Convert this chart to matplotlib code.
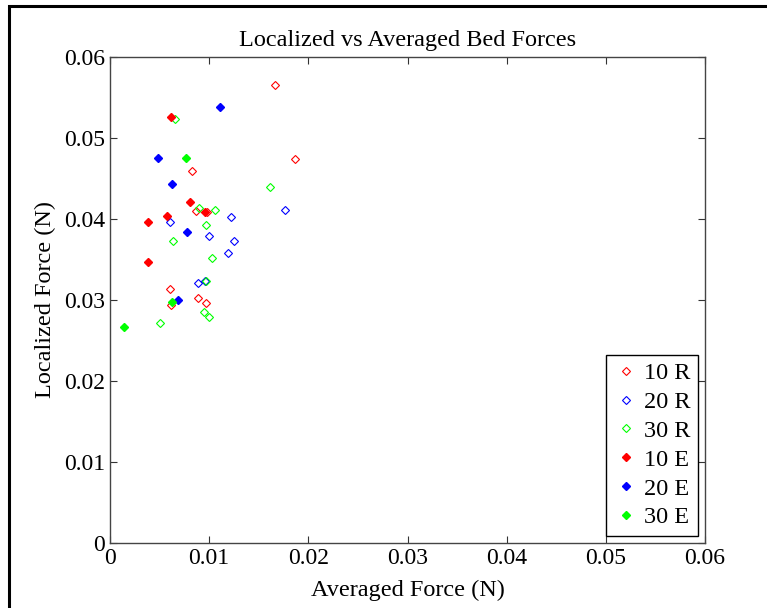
import matplotlib
matplotlib.use('Agg')
import matplotlib.pyplot as plt
from matplotlib.patches import Rectangle

plt.rcParams['font.family'] = ['Liberation Serif', 'DejaVu Serif']

# averaged force (x) and localized force (y), per series
r10_x = [0.0166, 0.01865, 0.0083, 0.0087, 0.0098, 0.0061, 0.0089, 0.0062, 0.0097]
r10_y = [0.0565, 0.0474, 0.0459, 0.0410, 0.0409, 0.0313, 0.0303, 0.0294, 0.0296]
r20_x = [0.0176, 0.0122, 0.0060, 0.0100, 0.0125, 0.0119, 0.0089, 0.0096]
r20_y = [0.0411, 0.0402, 0.0396, 0.0379, 0.0373, 0.0358, 0.0321, 0.0323]
r30_x = [0.0066, 0.0161, 0.0090, 0.0106, 0.0097, 0.0064, 0.0103, 0.0097, 0.0095, 0.0100, 0.0050]
r30_y = [0.0523, 0.0440, 0.0413, 0.0411, 0.0392, 0.0373, 0.0352, 0.0323, 0.0285, 0.0279, 0.0272]
e10_x = [0.0062, 0.0081, 0.0096, 0.0057, 0.0038, 0.0038]
e10_y = [0.0526, 0.0421, 0.0409, 0.0404, 0.0396, 0.0347]
e20_x = [0.0111, 0.0048, 0.0063, 0.0078, 0.0069]
e20_y = [0.0538, 0.0475, 0.0443, 0.0384, 0.0300]
e30_x = [0.0077, 0.0063, 0.0014]
e30_y = [0.0475, 0.0297, 0.0267]

fig = plt.figure(figsize=(7.67, 6.08), dpi=100)
ax = fig.add_axes([110/767, 1-543/608, 595/767, 486/608])

ax.plot(r10_x, r10_y, 'D', ls='none', ms=4, mfc='none', mec='#ff0000', mew=0.8, label='10 R')
ax.plot(r20_x, r20_y, 'D', ls='none', ms=4, mfc='none', mec='#0000ff', mew=0.8, label='20 R')
ax.plot(r30_x, r30_y, 'D', ls='none', ms=4, mfc='none', mec='#00ff00', mew=0.8, label='30 R')
ax.plot(e10_x, e10_y, 'D', ls='none', ms=4, color='#ff0000', label='10 E')
ax.plot(e20_x, e20_y, 'D', ls='none', ms=4, color='#0000ff', label='20 E')
ax.plot(e30_x, e30_y, 'D', ls='none', ms=4, color='#00ff00', label='30 E')

ax.set_xlim(0, 0.06)
ax.set_ylim(0, 0.06)
ax.set_xticks([0, 0.01, 0.02, 0.03, 0.04, 0.05, 0.06])
ax.set_yticks([0, 0.01, 0.02, 0.03, 0.04, 0.05, 0.06])
ax.set_xticklabels(['0', '0.01', '0.02', '0.03', '0.04', '0.05', '0.06'])
ax.set_yticklabels(['0', '0.01', '0.02', '0.03', '0.04', '0.05', '0.06'])
ax.tick_params(direction='in', length=5, width=0.8, top=True, right=True, labelsize=17, colors='#333333', labelcolor='black')
for s in ax.spines.values():
    s.set_color('#444444')
    s.set_linewidth(1)

ax.set_title('Localized vs Averaged Bed Forces', fontsize=17.5, pad=8)
ax.set_xlabel('Averaged Force (N)', fontsize=17.5, labelpad=8)
ax.set_ylabel('Localized Force (N)', fontsize=17.5, labelpad=6)

leg = ax.legend(loc='lower right', fontsize=17.5, fancybox=False, edgecolor='black',
                handlelength=1.0, handletextpad=0.25, borderpad=0.3, labelspacing=0.28,
                borderaxespad=0.3, framealpha=1)
leg.get_frame().set_linewidth(1)

# black frame round the figure
fig.patches.append(Rectangle((9/767, -0.1), 1.2, 1.1 - 6/608, transform=fig.transFigure,
                             fill=False, edgecolor='black', lw=2.2))

plt.savefig('out.png', dpi=100)
